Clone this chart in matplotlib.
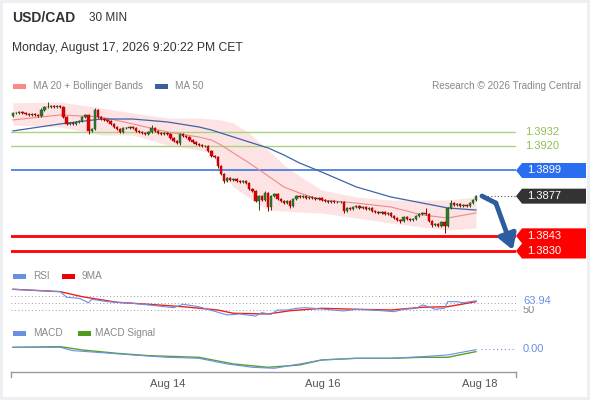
import matplotlib
matplotlib.use('Agg')
import matplotlib.pyplot as plt
import matplotlib.transforms as mtransforms
from matplotlib.patches import Rectangle, Polygon
import numpy as np

plt.rcParams['font.family'] = ['Liberation Sans', 'DejaVu Sans']

W, H = 590, 400

# ---- data (30 min candles) ----
first_open = 1.39457
closes = [
    1.39483, 1.39483, 1.39491, 1.39483, 1.39474, 1.39466, 1.39474, 1.39466, 1.39457, 1.39509,
    1.39534, 1.39534, 1.39543, 1.39534, 1.39543, 1.39534, 1.39449, 1.39389, 1.39397, 1.39389,
    1.39406, 1.39414, 1.39449, 1.39466, 1.39329, 1.39346, 1.39509, 1.39449, 1.39431, 1.39423,
    1.39414, 1.39389, 1.39363, 1.39346, 1.39320, 1.39354, 1.39354, 1.39363, 1.39354, 1.39329,
    1.39320, 1.39311, 1.39303, 1.39320, 1.39354, 1.39329, 1.39311, 1.39303, 1.39311, 1.39303,
    1.39269, 1.39243, 1.39226, 1.39303, 1.39286, 1.39277, 1.39251, 1.39234, 1.39217, 1.39209,
    1.39200, 1.39200, 1.39157, 1.39114, 1.39106, 1.39029, 1.38960, 1.38900, 1.38926, 1.38909,
    1.38917, 1.38900, 1.38891, 1.38900, 1.38883, 1.38831, 1.38814, 1.38729, 1.38771, 1.38737,
    1.38797, 1.38677, 1.38771, 1.38789, 1.38746, 1.38729, 1.38711, 1.38729, 1.38686, 1.38746,
    1.38771, 1.38763, 1.38771, 1.38754, 1.38763, 1.38754, 1.38746, 1.38754, 1.38737, 1.38729,
    1.38720, 1.38729, 1.38720, 1.38720, 1.38720, 1.38643, 1.38669, 1.38660, 1.38677, 1.38686,
    1.38669, 1.38677, 1.38660, 1.38669, 1.38643, 1.38634, 1.38626, 1.38634, 1.38617, 1.38626,
    1.38600, 1.38583, 1.38566, 1.38557, 1.38591, 1.38574, 1.38566, 1.38574, 1.38600, 1.38617,
    1.38626, 1.38617, 1.38557, 1.38523, 1.38531, 1.38514, 1.38549, 1.38514, 1.38669, 1.38711,
    1.38694, 1.38703, 1.38686, 1.38694, 1.38686, 1.38711, 1.38737, 1.38771,
]
# wick lengths beyond the body, in pips
wick_up = [
    0.9, 0.9, 0.9, 0.9, 0.9, 0.9, 0.9, 0.9, 0.9, 1.7,
    0.9, 4.3, 0.9, 0.9, 0.9, 0.9, 0.9, 0.9, 0.9, 0.9,
    0.9, 0.9, 0.9, 0.9, 0.9, 0.9, 1.7, 0.9, 0.9, 0.9,
    0.9, 0.9, 0.9, 0.9, 0.9, 0.9, 0.9, 0.9, 0.9, 0.9,
    0.9, 0.9, 0.9, 0.9, 2.6, 0.9, 0.9, 0.9, 0.9, 0.9,
    0.9, 0.9, 0.9, 0.9, 0.9, 0.9, 0.9, 0.9, 0.9, 0.9,
    0.9, 0.9, 0.9, 0.9, 0.9, 0.9, 0.9, 0.9, 0.9, 0.9,
    0.9, 0.9, 0.9, 0.9, 0.9, 0.9, 0.9, 0.9, 0.9, 0.9,
    1.7, 0.9, 0.9, 0.9, 0.9, 0.9, 0.9, 0.9, 0.9, 0.9,
    0.9, 0.9, 0.9, 0.9, 0.9, 0.9, 0.9, 0.9, 0.9, 0.9,
    0.9, 0.9, 0.9, 0.9, 0.9, 0.9, 0.9, 0.9, 0.9, 0.9,
    0.9, 0.9, 0.9, 0.9, 0.9, 0.9, 0.9, 0.9, 0.9, 0.9,
    0.9, 0.9, 0.9, 0.9, 0.9, 0.9, 0.9, 0.9, 0.9, 0.9,
    0.9, 4.3, 0.9, 0.9, 0.9, 0.9, 0.9, 0.9, 0.9, 2.6,
    0.9, 0.9, 0.9, 0.9, 0.9, 0.9, 0.9, 0.9,
]
wick_dn = [
    0.9, 0.9, 0.9, 0.9, 0.9, 0.9, 0.9, 0.9, 0.9, 0.9,
    0.9, 0.9, 0.9, 0.9, 0.9, 0.9, 0.9, 0.9, 0.9, 0.9,
    0.9, 0.9, 0.9, 0.9, 2.6, 0.9, 0.9, 0.9, 0.9, 0.9,
    0.9, 0.9, 0.9, 0.9, 0.9, 0.9, 0.9, 0.9, 0.9, 0.9,
    0.9, 0.9, 0.9, 0.9, 0.9, 0.9, 0.9, 0.9, 0.9, 0.9,
    0.9, 0.9, 0.9, 1.7, 0.9, 0.9, 0.9, 0.9, 0.9, 0.9,
    0.9, 0.9, 0.9, 0.9, 0.9, 1.7, 0.9, 1.7, 0.9, 0.9,
    0.9, 0.9, 0.9, 0.9, 0.9, 0.9, 0.9, 0.9, 7.7, 0.9,
    0.9, 3.4, 2.6, 0.9, 0.9, 0.9, 0.9, 0.9, 1.7, 0.9,
    0.9, 0.9, 0.9, 0.9, 0.9, 0.9, 0.9, 0.9, 0.9, 0.9,
    0.9, 0.9, 0.9, 0.9, 0.9, 1.7, 0.9, 0.9, 0.9, 0.9,
    0.9, 0.9, 0.9, 0.9, 0.9, 0.9, 0.9, 0.9, 0.9, 0.9,
    0.9, 0.9, 0.9, 1.7, 0.9, 0.9, 0.9, 0.9, 0.9, 0.9,
    0.9, 0.9, 0.9, 1.7, 0.9, 0.9, 0.9, 6.0, 0.9, 0.9,
    0.9, 0.9, 0.9, 0.9, 0.9, 0.9, 0.9, 0.9,
]

# overlays read at sample candles
ind_idx = [0, 15, 28, 38, 49, 59, 63, 66, 70, 75, 81, 86, 91, 98, 109, 120, 130, 138, 147]
ma50 = [1.39329, 1.39389, 1.39431, 1.39431, 1.39406, 1.39363, 1.39337, 1.39311, 1.39277, 1.39234,
        1.39183, 1.39123, 1.39054, 1.38977, 1.38849, 1.38763, 1.38711, 1.38669, 1.38651]
ma20 = [1.39423, 1.39466, 1.39449, 1.39389, 1.39320, 1.39277, 1.39251, 1.39209, 1.39140, 1.39054,
        1.38943, 1.38849, 1.38797, 1.38737, 1.38711, 1.38677, 1.38609, 1.38583, 1.38626]
band_up = [1.39569, 1.39577, 1.39526, 1.39483, 1.39440, 1.39440, 1.39431, 1.39423, 1.39397, 1.39311,
           1.39166, 1.39037, 1.38943, 1.38823, 1.38763, 1.38737, 1.38737, 1.38737, 1.38763]
band_dn = [1.39380, 1.39363, 1.39294, 1.39294, 1.39209, 1.39166, 1.39140, 1.38977, 1.38849, 1.38754,
           1.38651, 1.38643, 1.38634, 1.38626, 1.38583, 1.38540, 1.38506, 1.38480, 1.38497]

resist_levels = [1.3932, 1.3920]
pivot_level = 1.3899
support_levels = [1.3843, 1.3830]

rsi_idx = [0, 15, 17, 21, 24, 25, 30, 38, 43, 51, 54, 59, 68, 72, 77, 79, 82, 84, 87, 90,
           93, 98, 105, 109, 114, 121, 124, 128, 130, 132, 134, 137, 138, 141, 143, 147]
rsi = [80.3, 76.9, 68.9, 67.4, 61.1, 66.0, 62.6, 60.3, 57.9, 54.0, 58.9, 55.4, 43.6, 45.0, 42.1,
       46.9, 44.6, 50.7, 50.7, 53.1, 54.0, 52.1, 49.3, 51.7, 50.7, 48.3, 51.7, 53.1, 57.9, 55.4,
       51.7, 53.1, 62.6, 62.6, 61.1, 63.94]
ma9_idx = [0, 15, 22, 33, 43, 54, 65, 70, 81, 88, 98, 109, 120, 130, 138, 147]
rsi_ma9 = [80.3, 76.9, 69.7, 61.7, 58.9, 55.4, 50.7, 46.0, 45.0, 49.7, 53.1, 51.7, 50.7, 54.6, 55.4, 62.6]
rsi_grid = [70, 60, 50]

macd_idx = [0, 15, 19, 28, 38, 49, 59, 68, 76, 83, 91, 98, 109, 120, 130, 138, 147]
macd = [0.00006, 0.00006, -0.00004, -0.00010, -0.00017, -0.00024, -0.00027, -0.00044, -0.00054,
        -0.00057, -0.00044, -0.00032, -0.00027, -0.00027, -0.00022, -0.00017, -0.00001]
sig_idx = [0, 15, 22, 33, 43, 59, 70, 81, 91, 98, 109, 120, 130, 138, 147]
macd_sig = [0.00006, 0.00008, -0.00002, -0.00012, -0.00019, -0.00024, -0.00044, -0.00054, -0.00047,
            -0.00032, -0.00027, -0.00027, -0.00024, -0.00024, -0.00007]

tick_pos = [49.2, 98.4, 148.3]
tick_labels = ['Aug 14', 'Aug 16', 'Aug 18']

# ---- figure ----
fig = plt.figure(figsize=(W / 100, H / 100), dpi=100)
fig.patch.set_facecolor('#edf0f3')
fig.patches.append(Rectangle((3 / W, 3 / H), (W - 6) / W, (H - 6) / H, transform=fig.transFigure,
                             facecolor='white', edgecolor='none', zorder=-1))


def add_ax(x0, y0, x1, y1):
    return fig.add_axes([x0 / W, 1 - y1 / H, (x1 - x0) / W, (y1 - y0) / H])


def ftext(x, y, s, **kw):
    fig.text(x / W, 1 - y / H, s, **kw)


def swatch(x, y, color):
    fig.patches.append(Rectangle((x / W, 1 - (y + 2.5) / H), 13 / W, 5 / H, transform=fig.transFigure,
                                 facecolor=color, edgecolor='none'))


XMIN, XMAX = -0.63, 159.7
GREEN, RED = '#2f7a2c', '#e00000'
BLUE_L = '#6b8fe3'
LEG = '#888888'

# header
ftext(12, 18, 'USD/CAD', fontsize=10, fontweight='bold', color='#333333', va='center')
ftext(89, 18, '30 MIN', fontsize=8.5, color='#333333', va='center')
ftext(12, 48, 'Monday, August 17, 2026 9:20:22 PM CET', fontsize=8.7, color='#333333', va='center')

swatch(13, 86, '#f88a8a')
ftext(33, 86, 'MA 20 + Bollinger Bands', fontsize=7.2, color=LEG, va='center')
swatch(155, 86, '#3d5f9e')
ftext(175, 86, 'MA 50', fontsize=7.2, color=LEG, va='center')
ftext(581, 86, 'Research \u00a9 2026 Trading Central', fontsize=7.2, color=LEG, va='center', ha='right')

# ---- main price panel ----
ax = add_ax(11, 100, 516, 260)
YLO, YHI = 1.38223, 1.39594
ax.set_xlim(XMIN, XMAX)
ax.set_ylim(YLO, YHI)
ax.axis('off')
px_y = (YHI - YLO) / 160

ax.fill_between(ind_idx, band_dn, band_up, color='#fde3e3', lw=0, zorder=1)
for lv in resist_levels:
    ax.axhline(lv, color='#a9d47f', lw=1, zorder=2)
ax.axhline(pivot_level, color='#4f7fe0', lw=1.3, zorder=2)
for lv in support_levels:
    ax.axhline(lv, color='#ff0000', lw=2, zorder=2)
ax.plot(ind_idx, ma20, color='#f08a8a', lw=0.8, zorder=2)
ax.plot(ind_idx, ma50, color='#3f63a8', lw=0.9, zorder=2)

closes_a = np.array(closes)
opens_a = np.r_[first_open, closes_a[:-1]]
idx = np.arange(len(closes_a))
up = closes_a >= opens_a
body_lo = np.minimum(opens_a, closes_a)
body_hi = np.maximum(opens_a, closes_a)
body_h = np.maximum(body_hi - body_lo, 0.00002)
cols = np.where(up, GREEN, RED)
highs = body_hi + np.array(wick_up) * 1e-4
lows = body_lo - np.array(wick_dn) * 1e-4
ax.vlines(idx, lows, highs, colors=np.where(up, '#1d4d1b', '#8a0000'), lw=0.7, zorder=3)
ax.bar(idx, body_h, bottom=body_lo, width=0.75, color=cols,
       edgecolor=np.where(up, '#1d4d1b', '#a00000'), lw=0.3, zorder=4)

trans = mtransforms.blended_transform_factory(fig.transFigure, ax.transData)


def tag(price, label, color):
    h = 7.5 * px_y
    xs = np.array([516, 522, 586, 586, 522]) / W
    ys = [price, price + h, price + h, price - h, price - h]
    ax.add_patch(Polygon(np.c_[xs, ys], closed=True, transform=trans, facecolor=color,
                         edgecolor='none', clip_on=False, zorder=6))
    ax.text(527 / W, price, label, transform=trans, color='white', fontsize=8, va='center', zorder=7)


for lv in resist_levels:
    ax.text(525 / W, lv, f'{lv:.4f}', transform=trans, color='#8cc152', fontsize=8, va='center')
tag(pivot_level, f'{pivot_level:.4f}', '#2a6ef0')
last = closes_a[-1]
ax.plot([149.5, XMAX], [last, last], color='#555555', lw=0.8, ls=(0, (1, 2)), zorder=3)
tag(round(last, 4), f'{last:.4f}', '#333333')

# double red tag for the two supports
h = 7.5 * px_y
s1, s2 = support_levels
xs = np.array([522, 586, 586, 522, 516, 522, 522, 516]) / W
ys = [s1 + h, s1 + h, s2 - h, s2 - h, s2, s2 + h, s1 - h, s1]
ax.add_patch(Polygon(np.c_[xs, ys], closed=True, transform=trans, facecolor='#ff0000',
                     edgecolor='none', clip_on=False, zorder=6))
for lv in support_levels:
    ax.text(527 / W, lv, f'{lv:.4f}', transform=trans, color='white', fontsize=8, va='center', zorder=7)

# forecast arrow
ARROW = '#2e5d9f'
ax.plot([148.9, 153.3], [last, 1.38711], color=ARROW, lw=3.5, solid_capstyle='round', zorder=8)
ax.annotate('', xy=(158.7, 1.38309), xytext=(153.3, 1.38711), annotation_clip=False,
            arrowprops=dict(arrowstyle='-|>,head_length=0.9,head_width=0.55', color=ARROW, lw=3.5,
                            shrinkA=0, shrinkB=0), zorder=8)

# ---- RSI panel ----
swatch(13, 276, BLUE_L)
ftext(33, 276, 'RSI', fontsize=7.2, color=LEG, va='center')
swatch(62, 276, '#ee0000')
ftext(82, 276, '9MA', fontsize=7.2, color=LEG, va='center')

ax_r = add_ax(11, 282, 516, 320)
ax_r.set_xlim(XMIN, XMAX)
ax_r.set_ylim(36.4, 90.7)
ax_r.axis('off')
for g in rsi_grid:
    ax_r.axhline(g, color='#9a9a9a', lw=0.7, ls=(0, (1, 2.5)))
ax_r.plot(ma9_idx, rsi_ma9, color='#ee2020', lw=1.0)
ax_r.plot(rsi_idx, rsi, color=BLUE_L, lw=0.8)
tr_r = mtransforms.blended_transform_factory(fig.transFigure, ax_r.transData)
ax_r.text(523 / W, 50, '50', transform=tr_r, color=LEG, fontsize=8, va='center')
ax_r.text(523 / W, rsi[-1], f'{rsi[-1]:.2f}', transform=tr_r, color=BLUE_L, fontsize=8, va='center',
          bbox=dict(facecolor='white', edgecolor='none', pad=0.3))

# ---- MACD panel ----
swatch(13, 333, BLUE_L)
ftext(33, 333, 'MACD', fontsize=7.2, color=LEG, va='center')
swatch(78, 333, '#4f9a1f')
ftext(95, 333, 'MACD Signal', fontsize=7.2, color=LEG, va='center')

ax_m = add_ax(11, 338, 516, 372)
ax_m.set_xlim(XMIN, XMAX)
ax_m.set_ylim(-0.000681, 0.000339)
ax_m.plot(sig_idx, macd_sig, color='#5aa02c', lw=1.0)
ax_m.plot(macd_idx, macd, color=BLUE_L, lw=0.8)
ax_m.plot([148.5, XMAX], [0, 0], color=BLUE_L, lw=0.8, ls=(0, (1, 2.5)))
tr_m = mtransforms.blended_transform_factory(fig.transFigure, ax_m.transData)
ax_m.text(523 / W, 0, f'{macd[-1]:.2f}'.replace('-', ''), transform=tr_m, color=BLUE_L, fontsize=8, va='center')

for side in ['top', 'left', 'right']:
    ax_m.spines[side].set_visible(False)
ax_m.spines['bottom'].set_color('#9a9a9a')
ax_m.spines['bottom'].set_linewidth(1.0)
ax_m.set_yticks([])
ax_m.set_xticks(tick_pos)
ax_m.set_xticklabels(tick_labels)
ax_m.tick_params(axis='x', length=0, pad=5, labelsize=8, labelcolor='#555555')
for xe in (0, 1):
    ax_m.plot([xe, xe], [0, -0.15], transform=ax_m.transAxes, color='#9a9a9a', lw=1.0, clip_on=False)

fig.savefig('out.png', dpi=100, facecolor=fig.get_facecolor())
